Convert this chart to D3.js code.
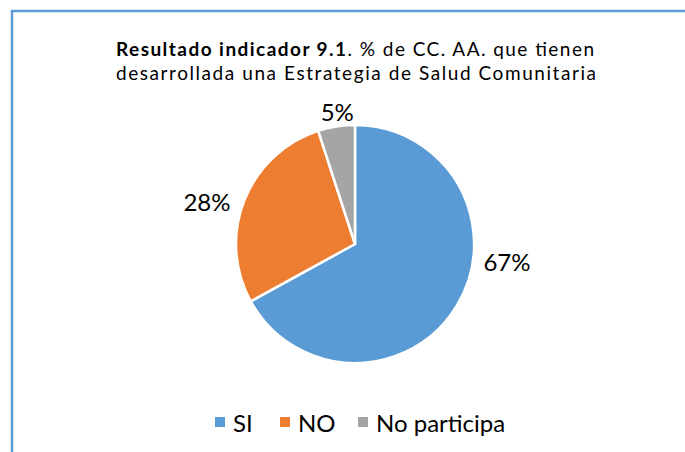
<!DOCTYPE html>
<html>
<head>
<meta charset="utf-8">
<script src="https://cdn.jsdelivr.net/npm/d3@7"></script>
<style>
  body { margin: 0; background: #fff; }
  svg { display: block; font-family: Lato, "Open Sans", sans-serif; }
</style>
</head>
<body>
<div id="chart"></div>
<script>
var w = 685;
var h = 452;

// data
var categories = ["SI", "NO", "No participa"];
var values = [67, 28, 5];
var colors = ["#5B9BD5", "#ED7D31", "#A5A5A5"];

var svg = d3.select("#chart")
            .append("svg")
            .attr("width", w)
            .attr("height", h);

// frame of the chart area (runs off right and bottom)
svg.append("rect")
   .attr("x", 12)
   .attr("y", 11)
   .attr("width", w + 10)
   .attr("height", h + 10)
   .attr("fill", "none")
   .attr("stroke", "#5B9BD5")
   .attr("stroke-width", 2.5);

// title - stretched to the width of the original (Calibri, wide spacing)
var title = svg.append("text")
   .attr("x", 355)
   .attr("y", 56)
   .attr("text-anchor", "middle")
   .attr("textLength", 478)
   .attr("lengthAdjust", "spacing")
   .style("font-size", "19px")
   .style("fill", "#000");
title.append("tspan").style("font-weight", "bold").text("Resultado indicador 9.1");
title.append("tspan").text(". % de CC. AA. que tienen");

svg.append("text")
   .attr("x", 356)
   .attr("y", 80)
   .attr("text-anchor", "middle")
   .attr("textLength", 480)
   .attr("lengthAdjust", "spacing")
   .style("font-size", "19px")
   .style("fill", "#000")
   .text("desarrollada una Estrategia de Salud Comunitaria");

// pie
var cx = 355, cy = 244, r = 119;
var pie = d3.pie().sort(null).value(function(d) { return d; });
var arcs = pie(values);
var arc = d3.arc().innerRadius(0).outerRadius(r);

var g = svg.append("g").attr("transform", "translate(" + cx + "," + cy + ")");

g.selectAll("path")
 .data(arcs)
 .enter()
 .append("path")
 .attr("d", arc)
 .attr("fill", function(d, i) { return colors[i]; })
 .attr("stroke", "#fff")
 .attr("stroke-width", 2.5)
 .attr("stroke-linejoin", "round");

// labels, best-fit style: nudge angle (deg) and distance from centre
var nudge = [-24, -5.6, 1.4];
var dist = [153, 154, 134];
g.selectAll("text.lbl")
 .data(arcs)
 .enter()
 .append("text")
 .attr("class", "lbl")
 .attr("text-anchor", "middle")
 .attr("dominant-baseline", "central")
 .style("font-size", "24px")
 .style("fill", "#000")
 .attr("x", function(d, i) {
     var a = (d.startAngle + d.endAngle) / 2 + nudge[i] * Math.PI / 180;
     return Math.sin(a) * dist[i];
 })
 .attr("y", function(d, i) {
     var a = (d.startAngle + d.endAngle) / 2 + nudge[i] * Math.PI / 180;
     return -Math.cos(a) * dist[i];
 })
 .text(function(d) { return d.value + "%"; });

// legend
var legX = [215, 280, 358];
var legend = svg.selectAll("g.leg")
   .data(categories)
   .enter()
   .append("g")
   .attr("class", "leg")
   .attr("transform", function(d, i) { return "translate(" + legX[i] + ",422)"; });

legend.append("rect")
   .attr("x", 0)
   .attr("y", -5)
   .attr("width", 10)
   .attr("height", 10)
   .attr("fill", function(d, i) { return colors[i]; });

legend.append("text")
   .attr("x", 18)
   .attr("y", 0)
   .attr("dominant-baseline", "central")
   .style("font-size", "24px")
   .style("fill", "#000")
   .text(function(d) { return d; });
</script>
</body>
</html>
